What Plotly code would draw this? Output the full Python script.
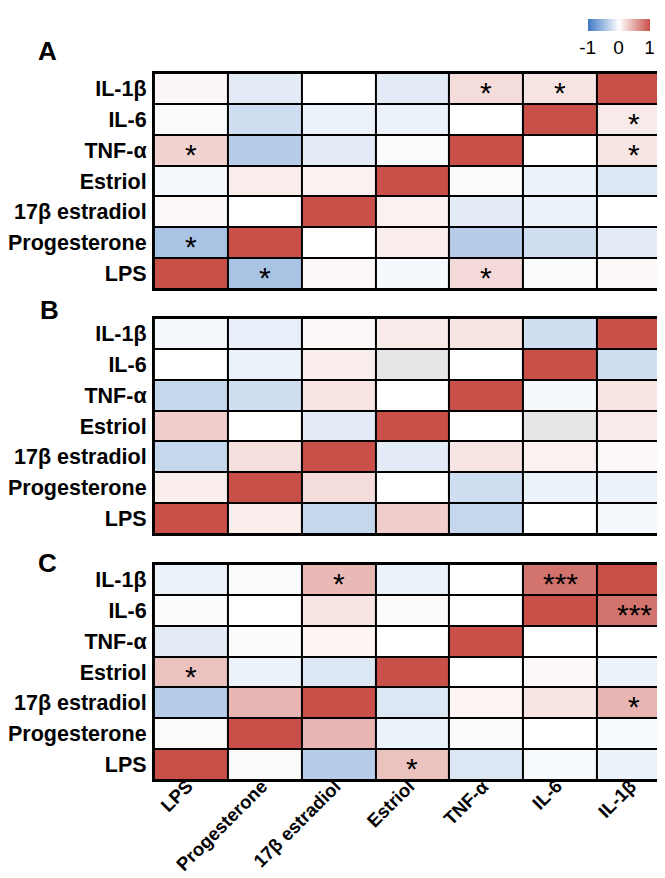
import plotly.graph_objects as go

labels = ["LPS", "Progesterone", "17β estradiol", "Estriol", "TNF-α", "IL-6", "IL-1β"]
rows_top_down = ["IL-1β", "IL-6", "TNF-α", "Estriol", "17β estradiol", "Progesterone", "LPS"]

# correlation values, rows listed top to bottom, columns in `labels` order
panel_A = [
    [0.05, -0.15, 0.00, -0.15, 0.20, 0.15, 1.00],
    [-0.03, -0.25, -0.10, -0.10, 0.00, 1.00, 0.12],
    [0.25, -0.38, -0.15, -0.03, 1.00, 0.00, 0.15],
    [-0.05, 0.10, 0.08, 1.00, -0.03, -0.10, -0.18],
    [0.04, 0.00, 1.00, 0.08, -0.15, -0.10, 0.00],
    [-0.45, 1.00, 0.00, 0.10, -0.38, -0.25, -0.15],
    [1.00, -0.45, 0.04, -0.05, 0.22, -0.03, 0.04],
]
panel_B = [
    [-0.05, -0.12, 0.04, 0.12, 0.15, -0.25, 1.00],
    [0.00, -0.10, 0.10, None, 0.00, 1.00, -0.25],
    [-0.30, -0.25, 0.15, 0.00, 1.00, -0.05, 0.15],
    [0.28, 0.00, -0.15, 1.00, 0.00, None, 0.12],
    [-0.30, 0.18, 1.00, -0.15, 0.15, 0.08, 0.04],
    [0.10, 1.00, 0.20, 0.00, -0.25, -0.10, -0.10],
    [1.00, 0.10, -0.30, 0.28, -0.30, 0.00, -0.05],
]
panel_C = [
    [-0.10, -0.03, 0.40, -0.10, 0.00, 0.80, 1.00],
    [-0.02, 0.00, 0.15, 0.03, 0.00, 1.00, 0.80],
    [-0.15, -0.02, 0.06, 0.00, 1.00, 0.00, 0.00],
    [0.35, -0.10, -0.18, 1.00, 0.00, 0.04, -0.10],
    [-0.38, 0.42, 1.00, -0.18, 0.06, 0.15, 0.42],
    [0.03, 1.00, 0.42, -0.10, -0.03, 0.00, -0.04],
    [1.00, 0.03, -0.38, 0.35, -0.18, -0.04, -0.10],
]
# significance marks: (row label, column label, text)
stars_A = [("IL-1β", "TNF-α", "*"), ("IL-1β", "IL-6", "*"), ("IL-6", "IL-1β", "*"),
           ("TNF-α", "LPS", "*"), ("TNF-α", "IL-1β", "*"), ("Progesterone", "LPS", "*"),
           ("LPS", "Progesterone", "*"), ("LPS", "TNF-α", "*")]
stars_B = []
stars_C = [("IL-1β", "17β estradiol", "*"), ("IL-1β", "IL-6", "***"), ("IL-6", "IL-1β", "***"),
           ("Estriol", "LPS", "*"), ("17β estradiol", "IL-1β", "*"), ("LPS", "Estriol", "*")]
panel_letters = ["A", "B", "C"]

colorscale = [[0.0, "rgb(62,121,196)"], [0.5, "rgb(255,255,255)"], [1.0, "rgb(200,80,72)"]]
W, H = 665, 878
x_dom = [143 / W, 664 / W]
y_px = [(65, 281), (310, 526), (556, 772)]
letter_px = [(36, 43), (38, 302), (36, 555)]

fig = go.Figure()
panels = [panel_A, panel_B, panel_C]
stars = [stars_A, stars_B, stars_C]
font_lbl = dict(family="Arial, Liberation Sans", size=21.5, color="black", weight="bold")
n = len(labels)

for i, (vals, st) in enumerate(zip(panels, stars)):
    xa = "x" if i == 0 else f"x{i+1}"
    ya = "y" if i == 0 else f"y{i+1}"
    fig.add_trace(go.Heatmap(
        z=vals, x=labels, y=rows_top_down, xaxis=xa, yaxis=ya,
        zmin=-1, zmax=1, colorscale=colorscale, xgap=2, ygap=2,
        showscale=(i == 0), hoverongaps=False,
        colorbar=dict(orientation="h", x=580 / W, xanchor="left", y=1 - 11 / H, yanchor="top",
                      len=62, lenmode="pixels", thickness=12, xpad=0, ypad=0,
                      outlinewidth=0, tickvals=[-1, 0, 1], ticktext=["-1", "0", "1"],
                      ticks="", tickfont=dict(family="Arial, Liberation Sans", size=19, color="black")),
    ))
    na = [[1 if v is None else None for v in r] for r in vals]
    if any(v is not None for r in na for v in r):
        fig.add_trace(go.Heatmap(
            z=na, x=labels, y=rows_top_down, xaxis=xa, yaxis=ya,
            colorscale=[[0, "rgb(230,230,230)"], [1, "rgb(230,230,230)"]],
            xgap=2, ygap=2, showscale=False, hoverongaps=False))
    top, bot = y_px[i]
    xkey = "xaxis" if i == 0 else f"xaxis{i+1}"
    ykey = "yaxis" if i == 0 else f"yaxis{i+1}"
    fig.update_layout({
        xkey: dict(domain=x_dom, anchor=ya, type="category", categoryorder="array",
                   categoryarray=labels, range=[-0.5, n - 0.5], showgrid=False, zeroline=False,
                   ticks="", showticklabels=False,
                   showline=True, mirror=True, linecolor="black", linewidth=2),
        ykey: dict(domain=[1 - bot / H, 1 - top / H], anchor=xa, type="category",
                   categoryorder="array", categoryarray=rows_top_down, range=[n - 0.5, -0.5],
                   showgrid=False, zeroline=False, ticks="", tickfont=font_lbl,
                   ticklabelstandoff=1,
                   showline=True, mirror=True, linecolor="black", linewidth=2),
    })
    for (r, c, t) in st:
        fig.add_annotation(x=c, y=r, xref=xa, yref=ya, text=t, showarrow=False,
                           yshift=-4, font=dict(family="Arial, Liberation Sans", size=30, color="black"))
    lx, ly = letter_px[i]
    fig.add_annotation(x=lx / W, y=1 - ly / H, xref="paper", yref="paper", text=panel_letters[i],
                       showarrow=False, xanchor="center", yanchor="middle",
                       font=dict(family="Arial, Liberation Sans", size=26, color="black", weight="bold"))

# rotated column labels under the bottom panel
for lab in labels:
    fig.add_annotation(x=lab, xref="x3", y=1 - 765 / H, yref="paper", text=lab,
                       showarrow=False, textangle=-45, xanchor="right", yanchor="top",
                       xshift=9, font=dict(font_lbl, size=18.5))

fig.update_layout(width=W, height=H, margin=dict(l=0, r=0, t=0, b=0),
                  plot_bgcolor="black", paper_bgcolor="white", showlegend=False)
fig.write_html("out.html")
